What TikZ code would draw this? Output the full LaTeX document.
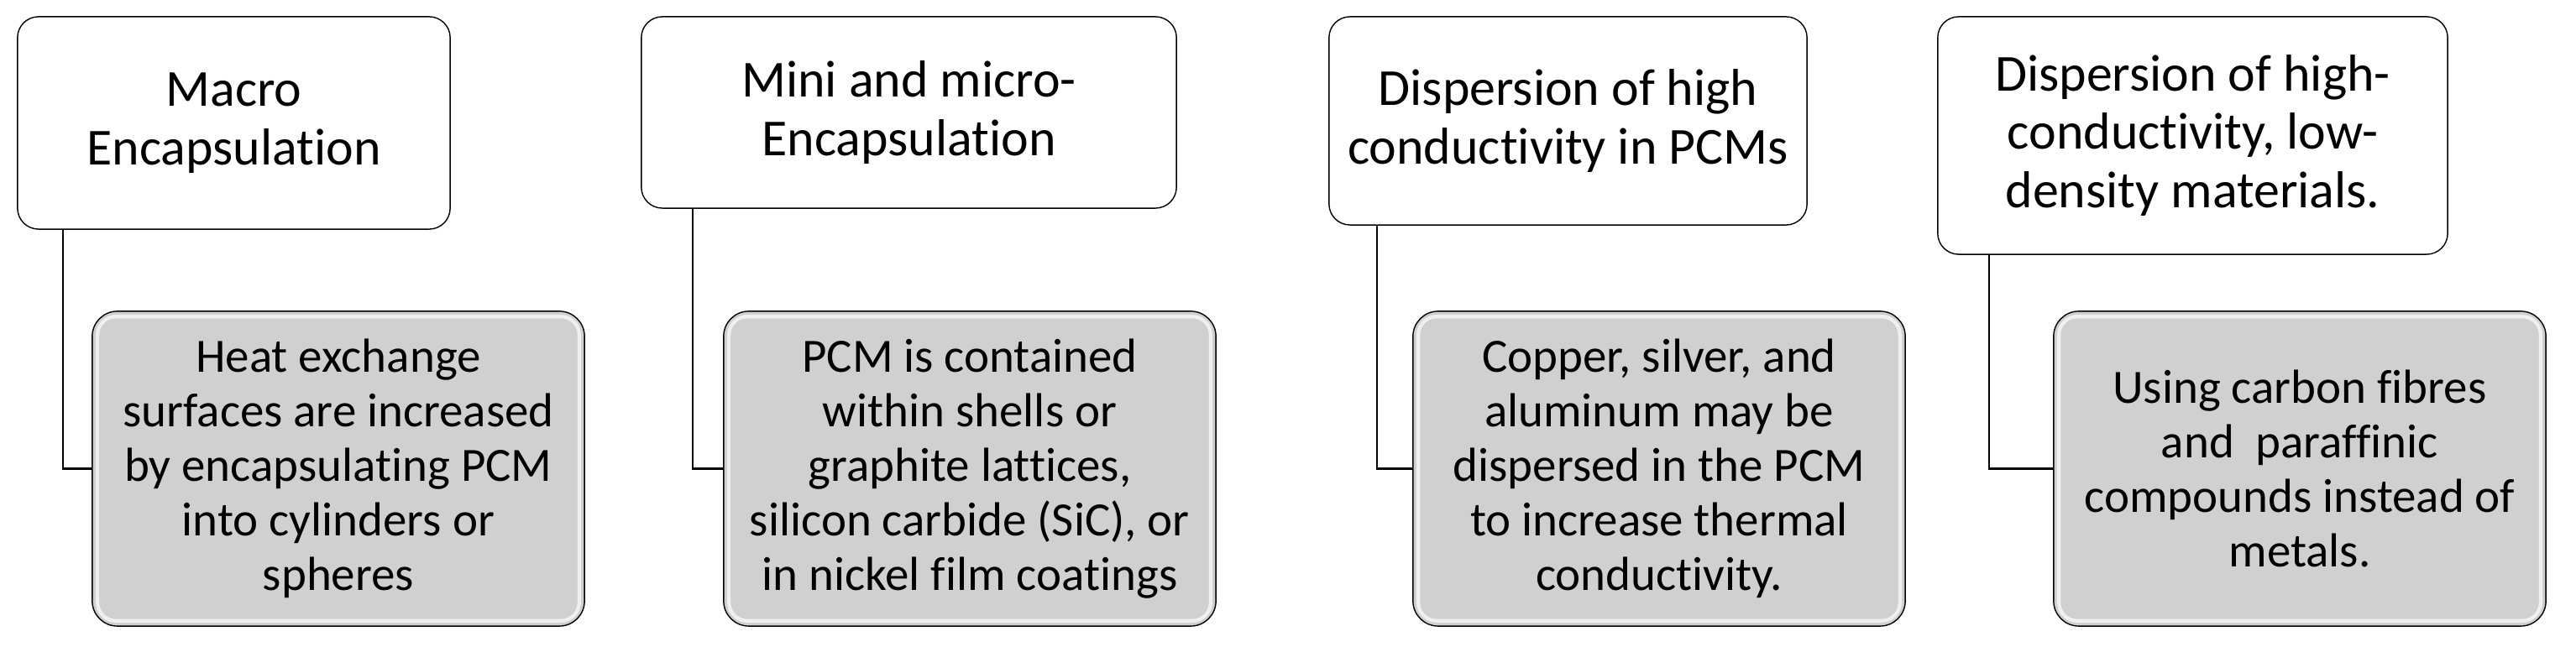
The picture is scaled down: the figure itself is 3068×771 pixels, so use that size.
\documentclass[tikz,border=0pt]{standalone}
\usepackage{fontspec}
\setmainfont{Carlito}[Ligatures=NoCommon]
\definecolor{notegray}{RGB}{208,208,208}
\tikzset{
    semithick,
    headbox/.style ={rectangle, draw, rounded corners=0.25cm, fill=white, align=center, inner sep=2pt, font=\fontsize{17.6}{19.9}\selectfont},
    notebox/.style ={rectangle, draw, rounded corners=0.3cm, fill=notegray, align=center, inner sep=2pt, minimum width=5.86cm, minimum height=3.75cm, font=\fontsize{16.2}{18.5}\selectfont},
    bevel/.style = {white, line width=1.2pt, opacity=0.7, rounded corners=0.22cm},
    link/.style = {line width=0.7pt}
}
\begin{document}
\begin{tikzpicture}[x=0.01cm, y=-0.01cm]

    \useasboundingbox (0,0) rectangle (3068,771);

    % Header boxes
    \node[headbox, minimum width=5.15cm, minimum height=2.53cm] (macro) at (278.5,146.5) {Macro\\Encapsulation};
    \node[headbox, minimum width=6.37cm, minimum height=2.28cm] (micro) at (1082.5,134) {Mini and micro-\\Encapsulation};
    \node[headbox, minimum width=5.69cm, minimum height=2.48cm] (disp) at (1867.5,144) {Dispersion of high\\conductivity in PCMs};
    \node[headbox, minimum width=6.07cm, minimum height=2.83cm] (light) at (2611.5,161.5) {Dispersion of high-\\conductivity, low-\\density materials.};

    % Detail boxes
    \node[notebox] (macrotxt) at (403,558.5) {Heat exchange\\surfaces are increased\\by encapsulating PCM\\into cylinders or\\spheres};
    \node[notebox] (microtxt) at (1155,558.5) {PCM is contained\\within shells or\\graphite lattices,\\silicon carbide (SiC), or\\in nickel film coatings};
    \node[notebox] (disptxt) at (1976,558.5) {Copper, silver, and\\aluminum may be\\dispersed in the PCM\\to increase thermal\\conductivity.};
    \node[notebox] (lighttxt) at (2739,558.5) {Using carbon fibres\\and~ paraffinic\\compounds instead of\\metals.};

    % Bevel highlights
    \draw[bevel] ([shift={(7,7)}]macrotxt.north west) rectangle ([shift={(-7,-7)}]macrotxt.south east);
    \draw[bevel] ([shift={(7,7)}]microtxt.north west) rectangle ([shift={(-7,-7)}]microtxt.south east);
    \draw[bevel] ([shift={(7,7)}]disptxt.north west) rectangle ([shift={(-7,-7)}]disptxt.south east);
    \draw[bevel] ([shift={(7,7)}]lighttxt.north west) rectangle ([shift={(-7,-7)}]lighttxt.south east);

    % Connectors
    \draw[link] ([xshift=0.55cm]macro.south west) |- (macrotxt.west);
    \draw[link] ([xshift=0.62cm]micro.south west) |- (microtxt.west);
    \draw[link] ([xshift=0.58cm]disp.south west) |- (disptxt.west);
    \draw[link] ([xshift=0.62cm]light.south west) |- (lighttxt.west);

\end{tikzpicture}
\end{document}
